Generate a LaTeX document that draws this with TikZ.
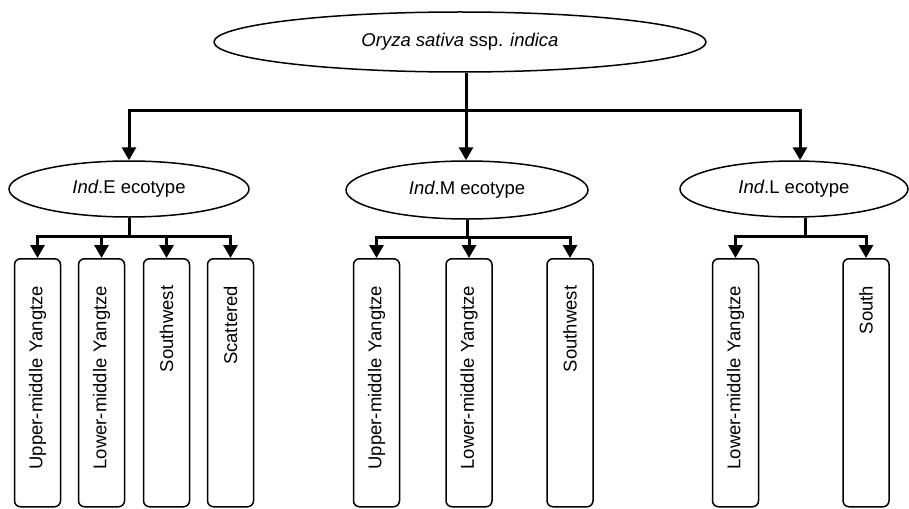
\documentclass[tikz,border=0pt]{standalone}
\usepackage{fontspec}
\setmainfont{Liberation Sans}
\usetikzlibrary{shapes.geometric,arrows.meta}
\tikzset{
  taxon/.style={ellipse,draw,line width=1.5pt,inner sep=0pt,font=\fontsize{18.5}{22}\selectfont},
  region/.style={rectangle,draw,rounded corners=6pt,line width=1.5pt,rotate=90,anchor=east,
    minimum height=46pt,minimum width=248pt,inner xsep=27pt,text width=194pt,align=right,
    font=\fontsize{18.5}{22}\selectfont},
  trunk/.style={line width=3pt},
  branch/.style={line width=3pt,-{Triangle[width=14pt,length=13pt]}}
}
\begin{document}
\begin{tikzpicture}[x=1pt,y=-1pt]
\useasboundingbox (0,0) rectangle (909,508);
%ellipses
\node[taxon,minimum width=492pt,minimum height=60pt] (oryza) at (460,42) {\textit{Oryza sativa} ssp. \textit{indica}};
\node[taxon,minimum width=240pt,minimum height=56pt] (indE) at (129,189) {\textit{Ind}.E ecotype};
\node[taxon,minimum width=242pt,minimum height=58pt] (indM) at (467,190) {\textit{Ind}.M ecotype};
\node[taxon,minimum width=228pt,minimum height=56pt] (indL) at (794,189) {\textit{Ind}.L ecotype};
%regions
\node[region] (e1) at (37.5,258) {Upper-middle Yangtze};
\node[region] (e2) at (101.5,258) {Lower-middle Yangtze};
\node[region] (e3) at (166.5,258) {Southwest};
\node[region] (e4) at (230.5,258) {Scattered};
\node[region] (m1) at (376.5,258) {Upper-middle Yangtze};
\node[region] (m2) at (469,258) {Lower-middle Yangtze};
\node[region] (m3) at (570,258) {Southwest};
\node[region] (l1) at (735.5,258) {Lower-middle Yangtze};
\node[region] (l2) at (866,258) {South};
%junctions
\coordinate (jM) at (466,111);
\coordinate (jL) at (800,111);
\coordinate (sE) at (129,236);
\coordinate (sM) at (467,237);
\coordinate (sL) at (805,236);
%top level
\draw[branch] (jM |- oryza.south) -- (jM |- indM.north);
\draw[branch] (jM) -| (indE.north);
\draw[branch] (jM) -- (jL) -- (jL |- indL.north);
%Ind.E
\draw[trunk] (indE.south) -- (sE);
\foreach \r in {e1,e2,e3,e4}
  \draw[branch] (sE) -| (\r.east);
%Ind.M
\draw[trunk] (indM.south) -- (sM);
\foreach \r in {m1,m2,m3}
  \draw[branch] (sM) -| (\r.east);
%Ind.L
\draw[trunk] (sL |- indL.south) -- (sL);
\foreach \r in {l1,l2}
  \draw[branch] (sL) -| (\r.east);
\end{tikzpicture}
\end{document}
